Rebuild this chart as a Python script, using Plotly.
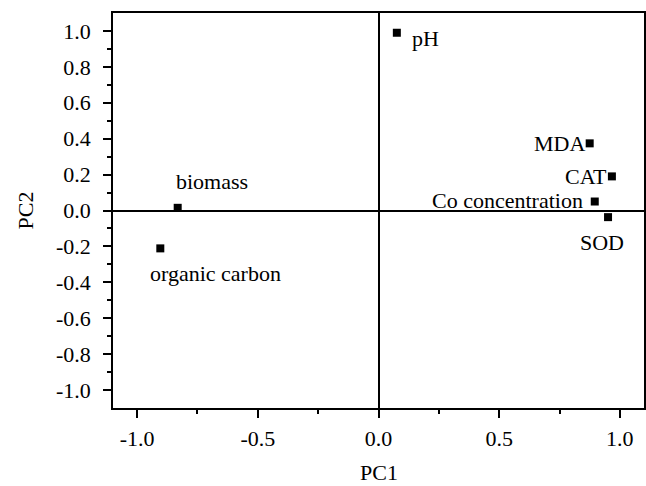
import plotly.graph_objects as go

names = ["pH", "MDA", "CAT", "Co concentration", "SOD", "biomass", "organic carbon"]
pc1 = [0.076, 0.875, 0.967, 0.896, 0.951, -0.832, -0.904]
pc2 = [0.99, 0.374, 0.19, 0.05, -0.037, 0.015, -0.211]

x_tickvals = [-1.0, -0.5, 0.0, 0.5, 1.0]
x_ticktext = ["-1.0", "-0.5", "0.0", "0.5", "1.0"]
y_tickvals = [-1.0, -0.8, -0.6, -0.4, -0.2, 0.0, 0.2, 0.4, 0.6, 0.8, 1.0]
y_ticktext = ["-1.0", "-0.8", "-0.6", "-0.4", "-0.2", "0.0", "0.2", "0.4", "0.6", "0.8", "1.0"]

# label placement: (xanchor, xshift, yshift) in pixels
label_style = {
    "pH": ("left", 13, -6),
    "MDA": ("right", -3, 0),
    "CAT": ("right", -3, 0),
    "Co concentration": ("right", -10, 1),
    "SOD": ("center", -6, -25),
    "biomass": ("center", 34, 26),
    "organic carbon": ("center", 55, -25),
}

FONT = "Liberation Serif"

fig = go.Figure()
fig.add_trace(go.Scatter(
    x=pc1, y=pc2, mode="markers",
    marker=dict(symbol="square", size=8, color="black"),
    hoverinfo="text", text=names, showlegend=False,
))

for n, xv, yv in zip(names, pc1, pc2):
    xa, xs, ys = label_style[n]
    fig.add_annotation(x=xv, y=yv, xref="x", yref="y", text=n, showarrow=False,
                       xanchor=xa, yanchor="middle", xshift=xs, yshift=ys,
                       font=dict(family=FONT, size=22, color="black"))

# x-axis title as annotation (placed below tick labels)
fig.add_annotation(x=0.5, y=0, xref="paper", yref="paper", text="PC1", showarrow=False,
                   xanchor="center", yanchor="top", yshift=-50,
                   font=dict(family=FONT, size=22, color="black"))

axis_common = dict(
    showline=True, linecolor="black", linewidth=1.5, mirror=True,
    ticks="outside", ticklen=8, tickwidth=1.5, tickcolor="black",
    showgrid=False, zeroline=True, zerolinecolor="black", zerolinewidth=1.5,
    tickfont=dict(family=FONT, size=22, color="black"),
    automargin=False,
)

fig.update_xaxes(range=[-1.1, 1.1], tickvals=x_tickvals, ticktext=x_ticktext,
                 minor=dict(ticks="outside", ticklen=4, tickwidth=1.5, tickcolor="black",
                            tickvals=[-0.75, -0.25, 0.25, 0.75]),
                 ticklabelstandoff=2,
                 **axis_common)
fig.update_yaxes(range=[-1.1, 1.1], tickvals=y_tickvals, ticktext=y_ticktext,
                 minor=dict(ticks="outside", ticklen=4, tickwidth=1.5, tickcolor="black",
                            tickvals=[-0.9, -0.7, -0.5, -0.3, -0.1, 0.1, 0.3, 0.5, 0.7, 0.9]),
                 title=dict(text="PC2", font=dict(family=FONT, size=22, color="black"), standoff=16),
                 ticklabelstandoff=8,
                 **axis_common)

fig.update_layout(
    width=646, height=486,
    margin=dict(l=113, r=2, t=13, b=78),
    paper_bgcolor="white", plot_bgcolor="white",
)

fig.write_html("out.html")
